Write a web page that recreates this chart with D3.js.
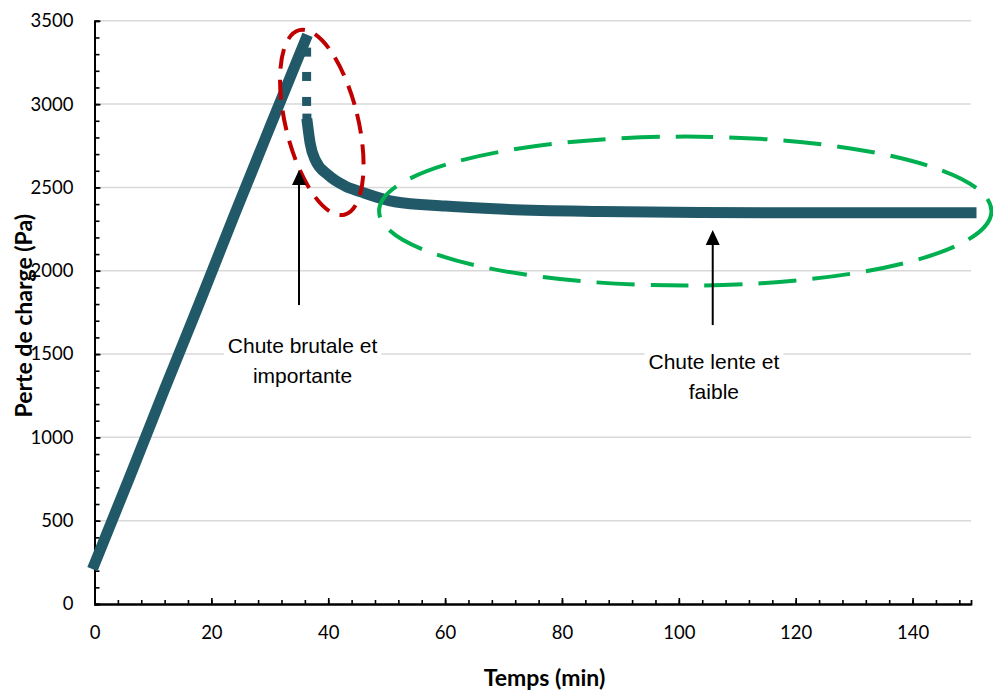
<!DOCTYPE html>
<html>
<head>
<meta charset="utf-8">
<script src="https://cdn.jsdelivr.net/npm/d3@7"></script>
<style>
  html, body { margin: 0; padding: 0; background: #fff; }
  svg { display: block; }
</style>
</head>
<body>
<svg id="chart" width="993" height="691"></svg>
<script>
// ---- Data ----
const riseTime  = [0, 6, 12, 18, 24, 30, 36.1];
const riseValue = [240, 760, 1290, 1810, 2340, 2860, 3385];
const dropTime  = [36.3, 36.3, 36.3, 36.35];
const dropValue = [3312, 3166, 3016, 2916];
const decayTime  = [36.45, 36.9, 37.8, 40.0, 42.9, 45.7, 51.4, 60, 69.4, 86.5, 103.6, 120.7, 135, 150];
const decayValue = [2880, 2766, 2664, 2574, 2508, 2472, 2414, 2388, 2370, 2356, 2350, 2348, 2348, 2348];

const xTicks = [0, 20, 40, 60, 80, 100, 120, 140];
const yTicks = [0, 500, 1000, 1500, 2000, 2500, 3000, 3500];
const xTitle = "Temps (min)";
const yTitle = "Perte de charge (Pa)";

// annotations (in data units)
const annotTexts = [
  { lines: ["Chute brutale et", "importante"], t: 35.6, v: 1508 },
  { lines: ["Chute lente et", "faible"], t: 106, v: 1410 }
];
const arrows = [
  { t: 35.0, from: 1794, to: 2604 },
  { t: 105.8, from: 1674, to: 2244 }
];
const ellipses = [
  { t: 38.9, v: 2890, rt: 6.2, rv: 570, rot: -13.7, color: "#C00000", dash: "20 11" },
  { t: 101.1, v: 2358, rt: 52.4, rv: 447, rot: 0, color: "#00B050", dash: "38 16" }
];

// ---- Scales ----
const x = d3.scaleLinear().domain([0, 150]).range([94.5, 971]);
const y = d3.scaleLinear().domain([0, 3500]).range([604, 20.8]);

const svg = d3.select("#chart");
const lineColor = "#215968";
const tickFont = "Lato, 'Open Sans', sans-serif";

// gridlines
svg.append("g").selectAll("line")
  .data(yTicks.filter(d => d > 0))
  .join("line")
  .attr("x1", x(0)).attr("x2", x(150))
  .attr("y1", d => y(d)).attr("y2", d => y(d))
  .attr("stroke", "#d9d9d9").attr("stroke-width", 1.5);

// minor ticks
const xMinor = d3.range(0, 150, 4);
const yMinor = d3.range(0, 3501, 100);

const gxMinor = svg.append("g").attr("transform", `translate(0,${y(0)})`)
  .call(d3.axisBottom(x).tickValues(xMinor).tickSize(-4).tickFormat(""));
const gyMinor = svg.append("g").attr("transform", `translate(${x(0)},0)`)
  .call(d3.axisLeft(y).tickValues(yMinor).tickSize(-5).tickFormat(""));

const gx = svg.append("g").attr("transform", `translate(0,${y(0)})`)
  .call(d3.axisBottom(x).tickValues(xTicks).tickSize(-6).tickSizeOuter(0)
    .tickPadding(22).tickFormat(d3.format("d")));
const gy = svg.append("g").attr("transform", `translate(${x(0)},0)`)
  .call(d3.axisLeft(y).tickValues(yTicks).tickSize(-6).tickSizeOuter(0)
    .tickPadding(21).tickFormat(d3.format("d")));

[gxMinor, gyMinor, gx, gy].forEach(g => {
  g.selectAll(".tick line").attr("stroke", "#000").attr("stroke-width", 1.6);
  g.select(".domain").attr("stroke", "#000").attr("stroke-width", 1.8);
  g.selectAll("text").attr("font-family", tickFont).attr("font-size", 18.5).attr("fill", "#000");
});

// axis titles
svg.append("text")
  .attr("x", x(77)).attr("y", 686)
  .attr("text-anchor", "middle")
  .attr("font-family", tickFont).attr("font-weight", "bold").attr("font-size", 23)
  .attr("fill", "#000")
  .text(xTitle);
svg.append("text")
  .attr("transform", `translate(32,${y(1730)}) rotate(-90)`)
  .attr("text-anchor", "middle")
  .attr("font-family", tickFont).attr("font-weight", "bold").attr("font-size", 23)
  .attr("fill", "#000")
  .text(yTitle);

// ---- data series ----
const line = d3.line().x(d => x(d[0])).y(d => y(d[1])).curve(d3.curveMonotoneX);
const rise = riseTime.map((t, i) => [t, riseValue[i]]);
const decay = decayTime.map((t, i) => [t, decayValue[i]]);
const drop = dropTime.map((t, i) => [t, dropValue[i]]);

svg.append("path").datum(rise).attr("d", line)
  .attr("fill", "none").attr("stroke", lineColor).attr("stroke-width", 11)
  .attr("stroke-linecap", "square").attr("stroke-linejoin", "round");
svg.append("path").datum(decay).attr("d", line)
  .attr("fill", "none").attr("stroke", lineColor).attr("stroke-width", 11)
  .attr("stroke-linecap", "square").attr("stroke-linejoin", "round");
svg.append("g").selectAll("rect").data(drop).join("rect")
  .attr("x", d => x(d[0]) - 4.5).attr("y", d => y(d[1]) - 4.5)
  .attr("width", 9).attr("height", 9).attr("fill", lineColor);

// ---- annotations ----
ellipses.forEach(e => {
  const cx = x(e.t), cy = y(e.v);
  svg.append("ellipse")
    .attr("transform", `translate(${cx},${cy}) rotate(${e.rot})`)
    .attr("rx", x(e.t + e.rt) - cx).attr("ry", y(e.v - e.rv) - cy)
    .attr("fill", "none").attr("stroke", e.color).attr("stroke-width", 4)
    .attr("stroke-dasharray", e.dash);
});

arrows.forEach(a => {
  const ax = x(a.t), y1 = y(a.from), y2 = y(a.to);
  svg.append("line").attr("x1", ax).attr("x2", ax).attr("y1", y1).attr("y2", y2 + 12)
    .attr("stroke", "#000").attr("stroke-width", 2);
  svg.append("path")
    .attr("d", `M${ax},${y2} L${ax - 7},${y2 + 15} L${ax + 7},${y2 + 15} Z`)
    .attr("fill", "#000");
});

annotTexts.forEach(a => {
  const g = svg.append("g");
  const cx = x(a.t), by = y(a.v);
  const bg = g.append("rect").attr("fill", "#fff");
  const txt = g.append("text")
    .attr("font-family", "'Liberation Sans', Arial, sans-serif")
    .attr("font-size", 21).attr("fill", "#000").attr("text-anchor", "middle");
  a.lines.forEach((l, i) => {
    txt.append("tspan").attr("x", cx).attr("y", by + i * 30).text(l);
  });
  const bb = txt.node().getBBox();
  bg.attr("x", bb.x - 4).attr("y", bb.y - 2).attr("width", bb.width + 8).attr("height", bb.height + 4);
});
</script>
</body>
</html>
